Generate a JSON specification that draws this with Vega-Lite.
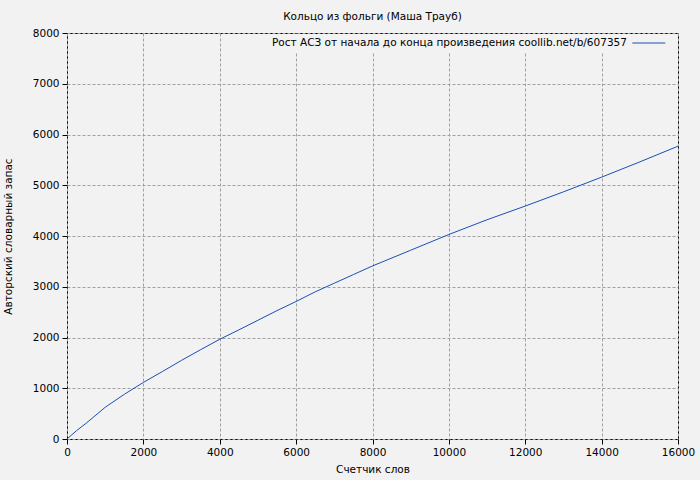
{
  "$schema": "https://vega.github.io/schema/vega-lite/v6.json",
  "width": 611,
  "height": 406,
  "autosize": "none",
  "padding": {"left": 67, "top": 33, "right": 22, "bottom": 41},
  "background": "#f2f2f2",
  "title": {"text": "Кольцо из фольги (Маша Трауб)", "fontSize": 10.5, "fontWeight": "normal", "font": "DejaVu Sans", "color": "black", "offset": 6, "anchor": "middle"},
  "data": {"values": [
    {"words": 0, "vocab": 0, "series": "Рост АСЗ от начала до конца произведения coollib.net/b/607357"},
    {"words": 250, "vocab": 165, "series": "Рост АСЗ от начала до конца произведения coollib.net/b/607357"},
    {"words": 500, "vocab": 310, "series": "Рост АСЗ от начала до конца произведения coollib.net/b/607357"},
    {"words": 1000, "vocab": 625, "series": "Рост АСЗ от начала до конца произведения coollib.net/b/607357"},
    {"words": 1500, "vocab": 880, "series": "Рост АСЗ от начала до конца произведения coollib.net/b/607357"},
    {"words": 2000, "vocab": 1115, "series": "Рост АСЗ от начала до конца произведения coollib.net/b/607357"},
    {"words": 2500, "vocab": 1330, "series": "Рост АСЗ от начала до конца произведения coollib.net/b/607357"},
    {"words": 3000, "vocab": 1550, "series": "Рост АСЗ от начала до конца произведения coollib.net/b/607357"},
    {"words": 3500, "vocab": 1760, "series": "Рост АСЗ от начала до конца произведения coollib.net/b/607357"},
    {"words": 4000, "vocab": 1965, "series": "Рост АСЗ от начала до конца произведения coollib.net/b/607357"},
    {"words": 4500, "vocab": 2150, "series": "Рост АСЗ от начала до конца произведения coollib.net/b/607357"},
    {"words": 5000, "vocab": 2340, "series": "Рост АСЗ от начала до конца произведения coollib.net/b/607357"},
    {"words": 5500, "vocab": 2530, "series": "Рост АСЗ от начала до конца произведения coollib.net/b/607357"},
    {"words": 6000, "vocab": 2710, "series": "Рост АСЗ от начала до конца произведения coollib.net/b/607357"},
    {"words": 6500, "vocab": 2900, "series": "Рост АСЗ от начала до конца произведения coollib.net/b/607357"},
    {"words": 7000, "vocab": 3070, "series": "Рост АСЗ от начала до конца произведения coollib.net/b/607357"},
    {"words": 7500, "vocab": 3240, "series": "Рост АСЗ от начала до конца произведения coollib.net/b/607357"},
    {"words": 8000, "vocab": 3410, "series": "Рост АСЗ от начала до конца произведения coollib.net/b/607357"},
    {"words": 9000, "vocab": 3720, "series": "Рост АСЗ от начала до конца произведения coollib.net/b/607357"},
    {"words": 10000, "vocab": 4030, "series": "Рост АСЗ от начала до конца произведения coollib.net/b/607357"},
    {"words": 11000, "vocab": 4320, "series": "Рост АСЗ от начала до конца произведения coollib.net/b/607357"},
    {"words": 12000, "vocab": 4590, "series": "Рост АСЗ от начала до конца произведения coollib.net/b/607357"},
    {"words": 13000, "vocab": 4870, "series": "Рост АСЗ от начала до конца произведения coollib.net/b/607357"},
    {"words": 14000, "vocab": 5160, "series": "Рост АСЗ от начала до конца произведения coollib.net/b/607357"},
    {"words": 15000, "vocab": 5460, "series": "Рост АСЗ от начала до конца произведения coollib.net/b/607357"},
    {"words": 16000, "vocab": 5770, "series": "Рост АСЗ от начала до конца произведения coollib.net/b/607357"}
  ]},
  "mark": {"type": "line", "strokeWidth": 1},
  "encoding": {
    "x": {"field": "words", "type": "quantitative", "title": "Счетчик слов",
          "scale": {"domain": [0, 16000], "nice": false, "zero": false},
          "axis": {"values": [0, 2000, 4000, 6000, 8000, 10000, 12000, 14000, 16000], "format": "d", "titlePadding": 7, "labelFlush": false}},
    "y": {"field": "vocab", "type": "quantitative", "title": "Авторский словарный запас",
          "scale": {"domain": [0, 8000], "nice": false},
          "axis": {"values": [0, 1000, 2000, 3000, 4000, 5000, 6000, 7000, 8000], "format": "d", "titlePadding": 19, "labelFlush": false}},
    "color": {"field": "series", "type": "nominal", "scale": {"range": ["#1a4fb5"]},
              "legend": {"orient": "none", "legendX": 201, "legendY": 1, "title": null, "symbolType": "M64.6,0H70.6", "symbolSize": 121, "symbolStrokeWidth": 1, "symbolStrokeColor": "#1a4fb5", "labelAlign": "left", "labelOffset": -11, "fillColor": "#f2f2f2", "padding": 3, "labelFontSize": 10.5, "labelFont": "DejaVu Sans", "labelColor": "black", "labelLimit": 0}}
  },
  "config": {
    "view": {"stroke": "black", "strokeWidth": 1, "fill": "#f2f2f2"},
    "axis": {"domain": false, "tickColor": "black", "tickSize": 5, "labelFont": "DejaVu Sans", "labelFontSize": 10.5, "labelColor": "black", "titleFont": "DejaVu Sans", "titleFontSize": 10.5, "titleFontWeight": "normal", "titleColor": "black", "gridColor": "#a0a0a0", "gridDash": [3, 2], "gridWidth": 1, "labelPadding": 3}
  }
}
